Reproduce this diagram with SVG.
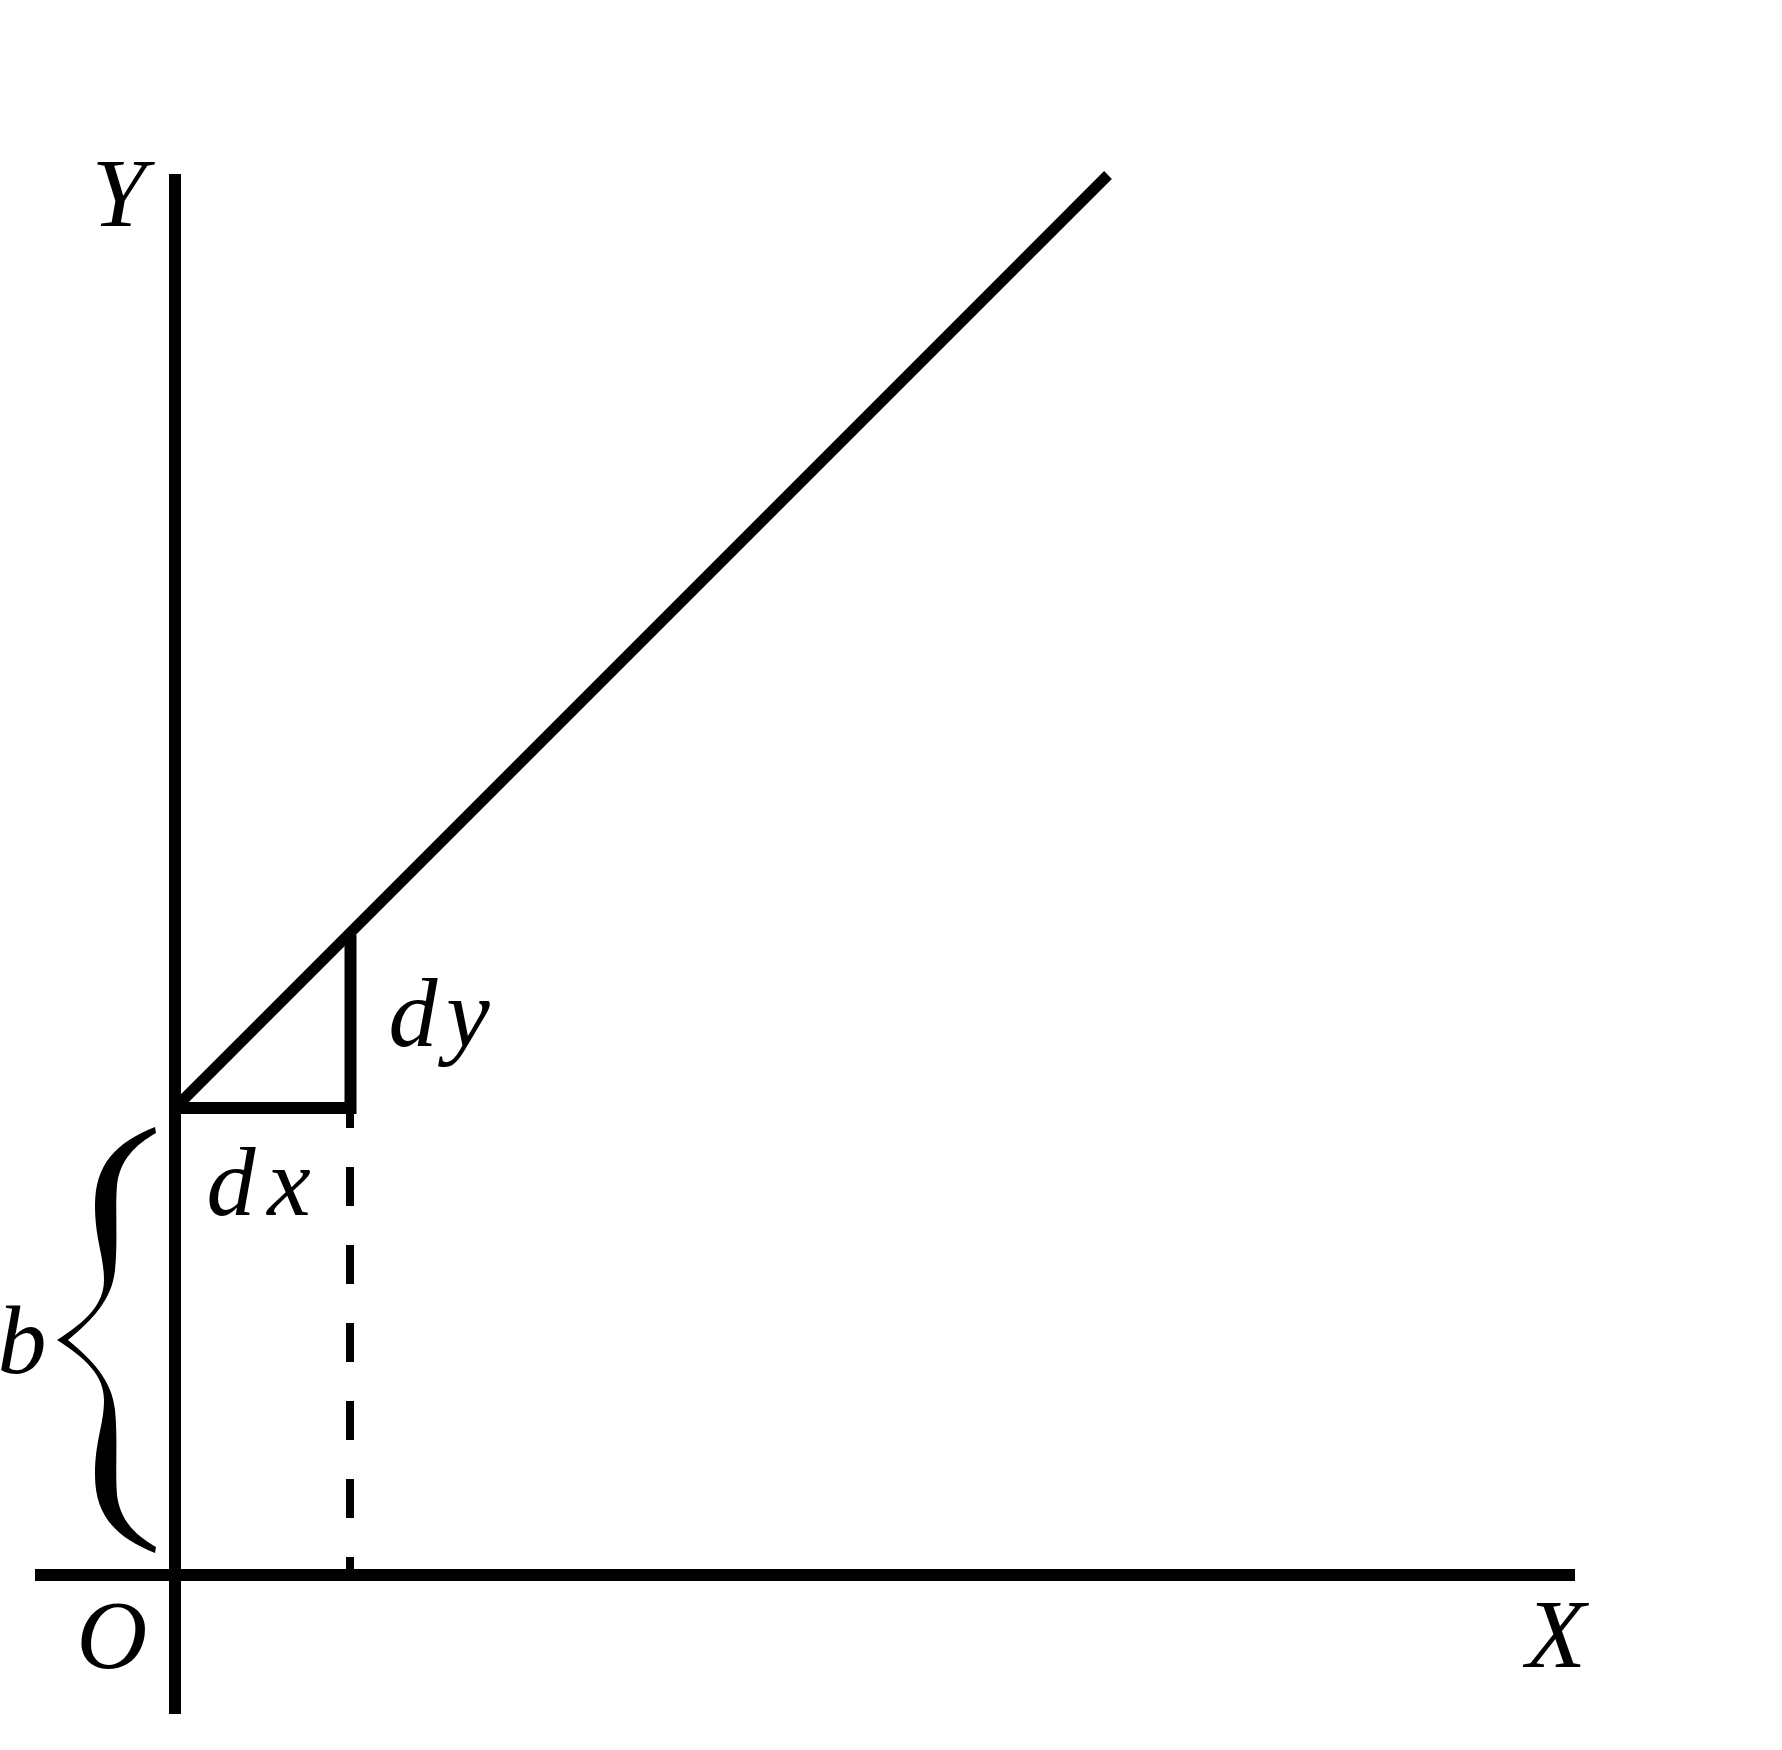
<svg xmlns="http://www.w3.org/2000/svg" width="1782" height="1750" viewBox="0 0 1782 1750">
<style>
.ln{stroke:#000;fill:none;stroke-linecap:butt}
.lbl{font-family:"Liberation Serif","Times New Roman",serif;font-style:italic;font-size:98px;fill:#000;text-anchor:middle}
</style>
<rect width="1782" height="1750" fill="#fff"/>
<g id="connectors">
<line id="y-axis" class="ln" x1="175" y1="174" x2="175" y2="1714" stroke-width="12"/>
<line id="x-axis" class="ln" x1="35" y1="1575" x2="1575" y2="1575" stroke-width="12"/>
<line id="slope-line" class="ln" x1="175" y1="1108" x2="1108" y2="175" stroke-width="11"/>
<path id="triangle" class="ln" d="M350.5,935 V1108 H175" stroke-width="12"/>
<line id="dashed" class="ln" x1="350" y1="1108" x2="350" y2="1575" stroke-width="8" stroke-dasharray="39 39" stroke-dashoffset="19"/>
</g>
<g id="brace">
<path fill="#000" d="M155,1127 C115,1143 95,1165 95,1205 C95,1240 104,1255 104,1280 C104,1305 85,1322 57,1340 C85,1358 104,1375 104,1400 C104,1425 95,1440 95,1475 C95,1515 115,1537 155,1553 L156,1547 C135,1535 120,1520 117,1495 C115,1470 118,1440 115,1410 C112,1380 92,1360 68,1340 C92,1320 112,1300 115,1270 C118,1240 115,1210 117,1185 C120,1160 135,1145 156,1133 Z"/>
</g>
<g id="label-Y"><text class="lbl" x="119" y="226">Y</text></g>
<g id="label-X"><text class="lbl" x="1556" y="1667">X</text></g>
<g id="label-O"><text class="lbl" x="112" y="1668">O</text></g>
<g id="label-b"><text class="lbl" x="22" y="1373">b</text></g>
<g id="label-dx"><text class="lbl" y="1215"><tspan x="231">d</tspan><tspan x="289">x</tspan></text></g>
<g id="label-dy"><text class="lbl" y="1046"><tspan x="413">d</tspan><tspan x="468">y</tspan></text></g>
</svg>
